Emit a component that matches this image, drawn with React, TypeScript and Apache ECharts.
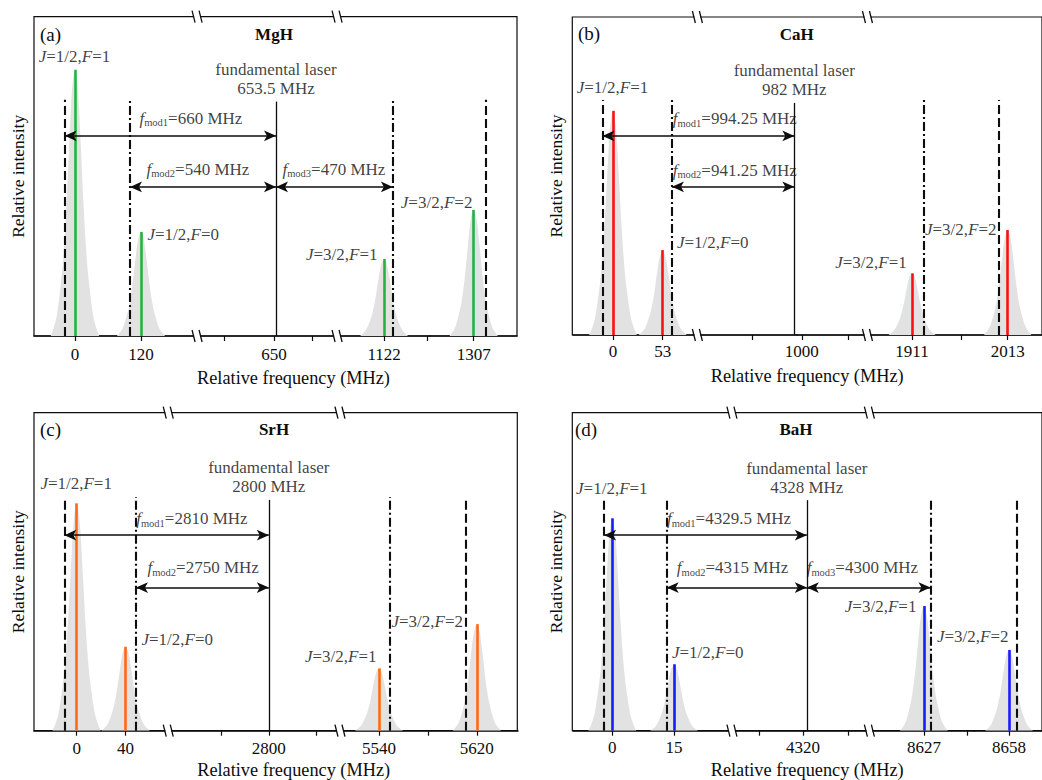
import { useEffect, useRef } from 'react';
import * as echarts from 'echarts';

const FONT = '"Liberation Serif", "Times New Roman", Times, serif';
const INK = '#0d0d0d';
const GREY = '#e2e2e2';

// relative shape of the grey line profile (offset in half-widths, relative height)
const profileOffsets = [-1.05, -0.91, -0.78, -0.62, -0.52, -0.39, -0.25, -0.13, 0, 0.13, 0.25, 0.39, 0.52, 0.62, 0.78, 0.91, 1.05];
const profileHeights = [0, 0.034, 0.08, 0.19, 0.28, 0.46, 0.72, 0.92, 1, 0.92, 0.72, 0.46, 0.28, 0.19, 0.08, 0.034, 0];

const stateLabels = ['{i|J}=1/2,{i|F}=1', '{i|J}=1/2,{i|F}=0', '{i|J}=3/2,{i|F}=1', '{i|J}=3/2,{i|F}=2'];

// (a) MgH
const mghPeaks = [0, 120, 1122, 1307];
const mghIntensity = [0.834, 0.326, 0.241, 0.395];
const mghTicks = [0, 120, 650, 1122, 1307];
const mghMinorTicks = [559, 719, 1200];
const mghLaser = 653.5;
const mghDashed = [-18.7, 1329];
const mghDashDot = [100, 1138];
const mghMods = ['mod1', 'mod2', 'mod3'];
const mghModFreqs = ['660', '540', '470'];
const mghLinewidth = 42;

// (b) CaH
const cahPeaks = [0, 53, 1911, 2013];
const cahIntensity = [0.705, 0.267, 0.194, 0.33];
const cahTicks = [0, 53, 1000, 1911, 2013];
const cahMinorTicks = [937, 1050, 1964];
const cahLaser = 982;
const cahDashed = [-11.2, 2003.6];
const cahDashDot = [62.9, 1923.6];
const cahMods = ['mod1', 'mod2'];
const cahModFreqs = ['994.25', '941.25'];
const cahLinewidth = 24.3;

// (c) SrH
const srhPeaks = [0, 40, 5540, 5620];
const srhIntensity = [0.715, 0.264, 0.196, 0.335];
const srhTicks = [0, 40, 2800, 5540, 5620];
const srhMinorTicks = [2761, 2839, 5580];
const srhLaser = 2800;
const srhDashed = [-10.1, 5611];
const srhDashDot = [48.5, 5549];
const srhMods = ['mod1', 'mod2'];
const srhModFreqs = ['2810', '2750'];
const srhLinewidth = 18.8;

// (d) BaH
const bahPeaks = [0, 15, 8627, 8658];
const bahIntensity = [0.668, 0.209, 0.392, 0.254];
const bahTicks = [0, 15, 4320, 8627, 8658];
const bahMinorTicks = [4309.3, 4338, 8637.5];
const bahLaser = 4328;
const bahDashed = [-2.0, 8659.9];
const bahDashDot = [13.2, 8628.6];
const bahMods = ['mod1', 'mod2', 'mod3'];
const bahModFreqs = ['4329.5', '4315', '4300'];
const bahLinewidth = 5.54;

// layout (positions / axis breaks), kept apart from the data
const layoutA = {
  left: 34, top: 16.7, width: 483, height: 319.3, min: -74.5, max: 1385.7,
  breaks: [[222, 510, true], [764.5, 1036.5, true], [1205, 1227, false]],
  lineTop: 0.74, laserTop: 0.734, arrowY: [0.627, 0.467, 0.467],
  stateLabelPos: [[0, 0.875, 'center'], [132.7, 0.317, 'left'], [1111, 0.254, 'right'], [1305.5, 0.417, 'right']],
  modLabelPos: [[118.2, 0.68], [130.9, 0.52], [666.2, 0.52]],
  tagPos: [40, 34], titlePos: [274, 34], labelMargin: 10, nameGap: 33, nameShift: 36,
};
const layoutB = {
  left: 572.3, top: 17, width: 473.5, height: 318, min: -43.4, max: 2049.6,
  breaks: [[90, 878.6, true], [985, 995, false], [1070, 1863.4, true]],
  lineTop: 0.739, laserTop: 0.73, arrowY: [0.626, 0.466],
  stateLabelPos: [[0, 0.776, 'center'], [68.8, 0.288, 'left'], [1905.9, 0.227, 'right'], [1925.3, 0.33, 'left']],
  modLabelPos: [[64.2, 0.679], [64.2, 0.517]],
  tagPos: [578, 33], titlePos: [796.7, 34], labelMargin: 8, nameGap: 32, nameShift: 0,
};
const layoutC = {
  left: 34, top: 412.7, width: 483.3, height: 318, min: -34.9, max: 5653.1,
  breaks: [[74.9, 2717.8, true], [2858.2, 5508.1, true]],
  lineTop: 0.735, laserTop: 0.726, arrowY: [0.615, 0.45],
  stateLabelPos: [[0, 0.775, 'center'], [53.4, 0.285, 'left'], [5538.4, 0.231, 'right'], [5550.6, 0.343, 'left']],
  modLabelPos: [[49.1, 0.665], [58.3, 0.511]],
  tagPos: [40, 429.3], titlePos: [274, 429.3], labelMargin: 9, nameGap: 30, nameShift: 36,
};
const layoutD = {
  left: 572.3, top: 412.7, width: 474, height: 318, min: -9.73, max: 8666,
  breaks: [[29.06, 4302.7, true], [4320.5, 4327.6, false], [4343.2, 8613.75, true], [8639, 8649.3, false]],
  lineTop: 0.725, laserTop: 0.725, arrowY: [0.615, 0.45, 0.45],
  stateLabelPos: [[0, 0.759, 'center'], [14.6, 0.245, 'left'], [8625.3, 0.39, 'right'], [8630.3, 0.296, 'left']],
  modLabelPos: [[13.4, 0.665], [15.8, 0.511], [4328.1, 0.511]],
  tagPos: [575, 429.3], titlePos: [796, 429.3], labelMargin: 8, nameGap: 30, nameShift: 0,
};

const panels = [
  { tag: '(a)', molecule: 'MgH', color: '#22b443', peaks: mghPeaks, intensity: mghIntensity, ticks: mghTicks, minor: mghMinorTicks, laser: mghLaser, dashed: mghDashed, dashDot: mghDashDot, mods: mghMods, modFreqs: mghModFreqs, linewidth: mghLinewidth, layout: layoutA },
  { tag: '(b)', molecule: 'CaH', color: '#ff1010', peaks: cahPeaks, intensity: cahIntensity, ticks: cahTicks, minor: cahMinorTicks, laser: cahLaser, dashed: cahDashed, dashDot: cahDashDot, mods: cahMods, modFreqs: cahModFreqs, linewidth: cahLinewidth, layout: layoutB },
  { tag: '(c)', molecule: 'SrH', color: '#ff6a10', peaks: srhPeaks, intensity: srhIntensity, ticks: srhTicks, minor: srhMinorTicks, laser: srhLaser, dashed: srhDashed, dashDot: srhDashDot, mods: srhMods, modFreqs: srhModFreqs, linewidth: srhLinewidth, layout: layoutC },
  { tag: '(d)', molecule: 'BaH', color: '#1a1aff', peaks: bahPeaks, intensity: bahIntensity, ticks: bahTicks, minor: bahMinorTicks, laser: bahLaser, dashed: bahDashed, dashDot: bahDashDot, mods: bahMods, modFreqs: bahModFreqs, linewidth: bahLinewidth, layout: layoutD },
];

const rich = {
  i: { fontFamily: FONT, fontStyle: 'italic', fontSize: 17, color: INK, lineHeight: 20 },
  s: { fontFamily: FONT, fontSize: 10.5, color: INK, lineHeight: 10, verticalAlign: 'bottom' },
};

function buildOption() {
  const grid: any[] = [];
  const xAxis: any[] = [];
  const yAxis: any[] = [];
  const series: any[] = [];

  panels.forEach((p, idx) => {
    const L: any = p.layout;
    grid.push({ left: L.left, top: L.top, width: L.width, height: L.height, show: true, borderColor: INK, borderWidth: 1.2, backgroundColor: 'transparent', containLabel: false });
    xAxis.push({
      type: 'value', gridIndex: idx, min: L.min, max: L.max,
      breaks: L.breaks.map((b: any) => ({ start: b[0], end: b[1], gap: 0 })),
      breakArea: { show: false },
      axisLine: { show: true, onZero: false, lineStyle: { color: INK, width: 1.5 } },
      axisTick: { show: true, customValues: [...p.ticks, ...p.minor], length: 5, lineStyle: { color: INK, width: 1.2 } },
      axisLabel: { show: true, customValues: p.ticks, margin: L.labelMargin, fontFamily: FONT, fontSize: 17, color: INK, formatter: (v: number) => String(v) },
      splitLine: { show: false },
      name: 'Relative frequency (MHz)', nameLocation: 'middle', nameGap: L.nameGap,
      nameTextStyle: { fontFamily: FONT, fontSize: 18.3, color: INK, padding: [0, 0, 0, L.nameShift] },
    });
    yAxis.push({
      type: 'value', gridIndex: idx, min: 0, max: 1,
      axisLine: { show: false }, axisTick: { show: false }, axisLabel: { show: false }, splitLine: { show: false },
      name: 'Relative intensity', nameLocation: 'middle', nameGap: 7,
      nameTextStyle: { fontFamily: FONT, fontSize: 17.5, color: INK },
    });

    // grey line profiles
    p.peaks.forEach((f, k) => {
      series.push({
        type: 'line', xAxisIndex: idx, yAxisIndex: idx, silent: true, z: 1,
        data: profileOffsets.map((o, j) => [f + o * p.linewidth, p.intensity[k] * profileHeights[j]]),
        smooth: 0.35, symbol: 'none', lineStyle: { width: 0 }, areaStyle: { color: GREY, opacity: 1 },
      });
    });

    const ml: any[] = [];
    p.peaks.forEach((f, k) => {
      ml.push([
        { coord: [f, 0], lineStyle: { color: p.color, width: 2.6, type: 'solid' } },
        { coord: [f, p.intensity[k]] },
      ]);
    });
    p.dashed.forEach((x) => {
      ml.push([
        { coord: [x, 0], lineStyle: { color: INK, width: 2.1, type: [9, 4] } },
        { coord: [x, L.lineTop] },
      ]);
    });
    p.dashDot.forEach((x) => {
      ml.push([
        { coord: [x, 0], lineStyle: { color: INK, width: 2.1, type: [9, 3, 2, 3] } },
        { coord: [x, L.lineTop] },
      ]);
    });
    ml.push([
      { coord: [p.laser, 0], lineStyle: { color: INK, width: 1.3, type: 'solid' } },
      { coord: [p.laser, L.laserTop] },
    ]);
    p.mods.forEach((m, k) => {
      const from = k === 0 ? p.dashed[0] : k === 1 ? p.dashDot[0] : p.laser;
      const to = k === 2 ? p.dashDot[1] : p.laser;
      const y = L.arrowY[k];
      ml.push([
        { coord: [from, y], symbol: 'arrow', symbolSize: [8, 12], lineStyle: { color: INK, width: 1.5, type: 'solid' } },
        { coord: [to, y], symbol: 'arrow', symbolSize: [8, 12] },
      ]);
    });
    series.push({
      type: 'line', xAxisIndex: idx, yAxisIndex: idx, data: [], silent: true, z: 3,
      markLine: { silent: true, symbol: ['none', 'none'], label: { show: false }, emphasis: { disabled: true }, data: ml },
    });

    // text annotations
    const items: any[] = [];
    p.peaks.forEach((_, k) => {
      const pos = L.stateLabelPos[k];
      items.push({ value: [pos[0], pos[1]], label: { formatter: stateLabels[k], align: pos[2] } });
    });
    p.mods.forEach((m, k) => {
      const pos = L.modLabelPos[k];
      items.push({ value: [pos[0], pos[1]], label: { formatter: `{i|f}{s|${m}}=${p.modFreqs[k]} MHz`, align: 'left' } });
    });
    items.push({
      value: [p.laser, L.laserTop],
      label: { formatter: `fundamental laser\n${String(p.laser)} MHz`, position: 'top', distance: 3, align: 'center', verticalAlign: 'bottom', lineHeight: 19 },
    });
    series.push({
      type: 'scatter', xAxisIndex: idx, yAxisIndex: idx, silent: true, z: 5,
      symbolSize: 1, itemStyle: { color: 'rgba(0,0,0,0)' },
      label: { show: true, position: [0, 0], verticalAlign: 'middle', fontFamily: FONT, fontSize: 17, color: INK, lineHeight: 20, rich },
      data: items,
    });
  });

  return { animation: false, backgroundColor: '#ffffff', grid, xAxis, yAxis, series };
}

export default function App() {
  const ref = useRef<HTMLDivElement>(null);
  useEffect(() => {
    if (!ref.current) return;
    const chart = echarts.init(ref.current, undefined, { renderer: 'svg' });
    chart.setOption(buildOption() as any);

    const gfx: any[] = [];
    panels.forEach((p, i) => {
      const L: any = p.layout;
      gfx.push({ type: 'text', x: L.tagPos[0], y: L.tagPos[1], z: 50, style: { text: p.tag, fontFamily: FONT, fontSize: 19, fill: INK, textAlign: 'left', textVerticalAlign: 'middle' } });
      gfx.push({ type: 'text', x: L.titlePos[0], y: L.titlePos[1], z: 50, style: { text: p.molecule, fontFamily: FONT, fontSize: 17, fontWeight: 'bold', fill: INK, textAlign: 'center', textVerticalAlign: 'middle' } });
      L.breaks.forEach((b: any) => {
        if (!b[2]) return;
        const pts = [chart.convertToPixel({ gridIndex: i } as any, [b[0], 0]) as any, chart.convertToPixel({ gridIndex: i } as any, [b[0], 1]) as any];
        pts.forEach((pt: number[]) => {
          const x = pt[0];
          const y = pt[1];
          gfx.push({ type: 'rect', z: 60, shape: { x: x - 3, y: y - 2.5, width: 6, height: 5 }, style: { fill: '#ffffff' } });
          gfx.push({ type: 'line', z: 61, shape: { x1: x - 5, y1: y - 6, x2: x - 2, y2: y + 6 }, style: { stroke: INK, lineWidth: 1.3 } });
          gfx.push({ type: 'line', z: 61, shape: { x1: x + 2, y1: y - 6, x2: x + 5, y2: y + 6 }, style: { stroke: INK, lineWidth: 1.3 } });
        });
      });
    });
    chart.setOption({ graphic: gfx });
    return () => chart.dispose();
  }, []);
  return <div ref={ref} style={{ position: 'fixed', left: 0, top: 0, width: 1042, height: 780, background: '#fff' }} />;
}
